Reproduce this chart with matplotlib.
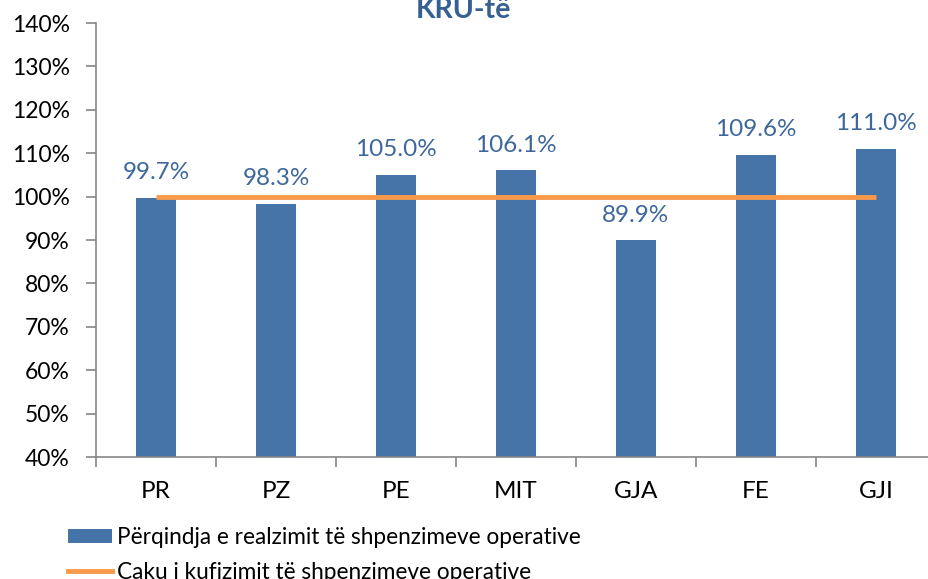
import matplotlib
matplotlib.use("Agg")
import matplotlib.pyplot as plt
from matplotlib.patches import Patch
from matplotlib.lines import Line2D
import numpy as np

plt.rcParams['font.family'] = ['Lato', 'DejaVu Sans']

# data
categories = ["PR", "PZ", "PE", "MIT", "GJA", "FE", "GJI"]
realizimi = [99.7, 98.3, 105.0, 106.1, 89.9, 109.6, 111.0]
caku = [100, 100, 100, 100, 100, 100, 100]
yticks = [40, 50, 60, 70, 80, 90, 100, 110, 120, 130, 140]

BLUE = "#4673A8"
ORANGE = "#F79A4C"
LABEL = "#3E679B"
AXIS = "#868686"

fig = plt.figure(figsize=(9.29, 5.79), dpi=100)
ax = fig.add_axes([96 / 929, 122 / 579, 840 / 929, 434 / 579])

x = np.arange(len(categories))
ax.bar(x, realizimi, width=0.34, color=BLUE, zorder=2)
ax.plot(x, caku, color=ORANGE, lw=3.5, zorder=3, solid_capstyle='butt')

for xi, v in zip(x, realizimi):
    ax.annotate(f"{v:.1f}%", (xi, v), xytext=(0, 18), textcoords="offset points",
                ha="center", va="center", fontsize=17.5, color=LABEL)

ax.set_xlim(-0.5, len(categories) - 0.5)
ax.set_ylim(40, 140)
ax.set_yticks(yticks)
ax.set_yticklabels([f"{t}%" for t in yticks])
ax.set_xticks(x)
ax.set_xticklabels(categories)
ax.set_xticks(np.arange(len(categories) + 1) - 0.5, minor=True)
ax.tick_params(axis="x", which="major", length=0, pad=17, labelsize=17.5)
ax.tick_params(axis="x", which="minor", length=7, color=AXIS, width=1.2)
ax.tick_params(axis="y", length=7, color=AXIS, width=1.2, labelsize=16.5, pad=12)

for s in ["top", "right"]:
    ax.spines[s].set_visible(False)
for s in ["left", "bottom"]:
    ax.spines[s].set_color(AXIS)
    ax.spines[s].set_linewidth(1.2)

fig.text(463 / 929, 1 - 18 / 579, "KRU-të", ha="center", va="baseline",
         fontsize=20.5, fontweight="bold", color="#376092")

handles = [Patch(facecolor=BLUE, edgecolor="none"),
           Line2D([0], [0], color=ORANGE, lw=3.5)]
labels = ["Përqindja e realzimit të shpenzimeve operative",
          "Caku i kufizimit të shpenzimeve operative"]
fig.legend(handles, labels, loc="upper left", bbox_to_anchor=(59 / 929, 1 - 518 / 579),
           frameon=False, fontsize=16.3, handlelength=1.96, handleheight=0.55,
           handletextpad=0.22, labelspacing=0.6, borderaxespad=0)

fig.savefig("out.png", dpi=100)
